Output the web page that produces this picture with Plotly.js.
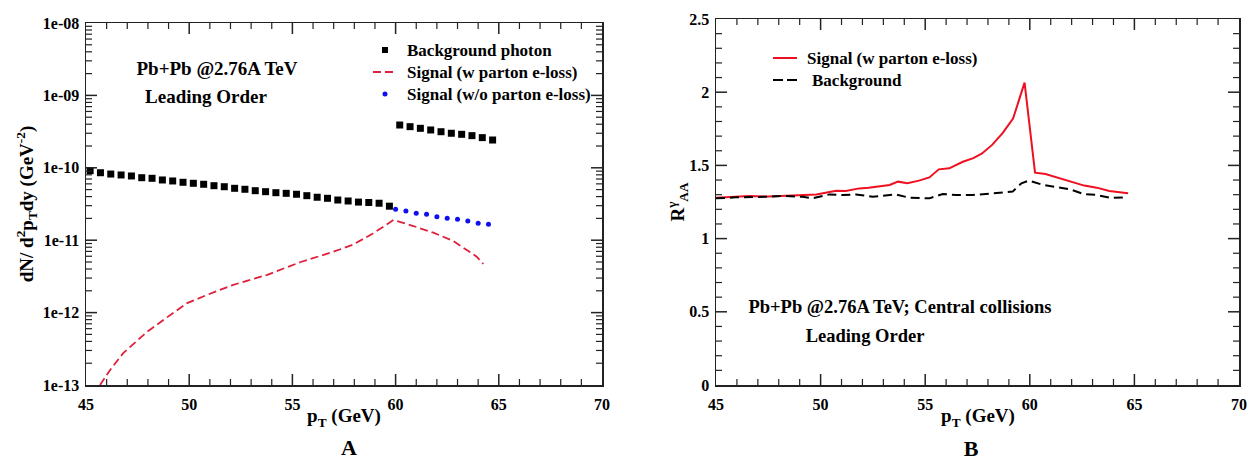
<!DOCTYPE html>
<html>
<head>
<meta charset="utf-8">
<script src="https://cdn.plot.ly/plotly-3.0.1.min.js"></script>
<style>
html,body{margin:0;padding:0;background:#fff;}
#wrap{position:relative;width:1248px;height:460px;}
#chart{position:absolute;left:0;top:0;width:1248px;height:460px;}
.t{position:absolute;z-index:10;font-family:'Liberation Serif','Times New Roman',serif;font-weight:bold;color:#000;white-space:nowrap;line-height:1;transform:translate(-50%,-50%);}
.l{position:absolute;z-index:10;font-family:'Liberation Serif','Times New Roman',serif;font-weight:bold;color:#000;white-space:nowrap;line-height:1;font-size:17px;transform:translateY(-50%);}
.t sup,.t sub{font-size:70%;}
.rot{transform:translate(-50%,-50%) rotate(-90deg);}
.sym{position:absolute;z-index:10;}
</style>
</head>
<body>
<div id="wrap">
<div id="chart"></div>
<div id="overlay"></div>
</div>
<script>
// ---- Panel A data ----
var bgX = [45.2,45.7,46.2,46.7,47.2,47.7,48.2,48.7,49.2,49.7,50.2,50.7,51.2,51.7,52.2,52.7,53.2,53.7,54.2,54.7,55.2,55.7,56.2,56.7,57.2,57.7,58.2,58.7,59.2,59.7,
           60.2,60.7,61.2,61.7,62.2,62.7,63.2,63.7,64.2,64.7];
var bgY = [9.12e-11,8.55e-11,8.20e-11,7.96e-11,7.71e-11,7.30e-11,7.16e-11,6.79e-11,6.58e-11,6.31e-11,6.11e-11,5.92e-11,5.66e-11,5.48e-11,5.21e-11,5.05e-11,4.83e-11,4.68e-11,4.53e-11,4.44e-11,4.31e-11,4.12e-11,3.92e-11,3.79e-11,3.59e-11,3.48e-11,3.36e-11,3.32e-11,3.24e-11,2.95e-11,
           3.90e-10,3.70e-10,3.51e-10,3.33e-10,3.15e-10,3.00e-10,2.90e-10,2.78e-10,2.61e-10,2.42e-10];
var sigLossX = [45.68,46.16,46.8,47.95,48.9,49.9,50.85,52.1,53.75,55.4,56.97,57.95,58.9,59.9,60.86,61.83,62.8,63.44,63.93,64.25];
var sigLossY = [1.0e-13,1.6e-13,2.75e-13,5.4e-13,8.5e-13,1.35e-12,1.75e-12,2.4e-12,3.3e-12,5.0e-12,6.9e-12,8.7e-12,1.24e-11,1.9e-11,1.57e-11,1.27e-11,9.75e-12,7.33e-12,5.92e-12,4.69e-12];
var sigNoLossX = [60.0,60.5,61.0,61.5,62.0,62.5,63.0,63.5,64.0,64.5];
var sigNoLossY = [2.67e-11,2.53e-11,2.35e-11,2.28e-11,2.11e-11,2.01e-11,1.94e-11,1.84e-11,1.71e-11,1.66e-11];
var yTickLabels = {'1e-8': '1e-08', '1e-9': '1e-09', '1e\u22128': '1e-08', '1e\u22129': '1e-09',
                   '1e\u221210': '1e-10', '1e\u221211': '1e-11', '1e\u221212': '1e-12', '1e\u221213': '1e-13'};

// ---- Panel B data ----
var raaSigX = [45,46,46.6,47.5,48.2,49,49.8,50.3,50.75,51.2,51.85,52.3,52.8,53.3,53.7,54.15,54.7,55.2,55.65,56.15,56.8,57.3,57.7,58.2,58.7,59.2,59.75,60.25,60.75,61.3,61.9,62.6,63.2,63.8,64.7];
var raaSigY = [1.279,1.285,1.291,1.287,1.293,1.296,1.302,1.315,1.327,1.325,1.343,1.347,1.355,1.366,1.389,1.378,1.396,1.418,1.473,1.480,1.525,1.55,1.58,1.64,1.72,1.82,2.065,1.45,1.441,1.418,1.396,1.362,1.348,1.325,1.309];
var raaBgX = [45,45.96,47.4,48.2,49.14,49.62,50.42,51.06,51.69,52.49,53.6,54.24,55.2,55.84,56.47,57.27,58.23,59.18,59.6,59.95,60.65,61.29,61.92,62.56,63.2,63.83,64.63];
var raaBgY = [1.275,1.282,1.286,1.291,1.286,1.275,1.302,1.298,1.302,1.286,1.302,1.279,1.275,1.305,1.298,1.298,1.309,1.321,1.378,1.396,1.366,1.350,1.337,1.305,1.298,1.279,1.282];

var W = 1248, H = 460;
function px(x){return x/W;}
function py(y){return 1 - y/H;}
var FONT = 'Liberation Serif, Times New Roman, serif';
var TICKC = '#222';

var traces = [
  {x: bgX, y: bgY, mode: 'markers', name: 'Background photon', xaxis: 'x', yaxis: 'y',
   marker: {symbol: 'square', size: 7, color: '#000'}},
  {x: sigLossX, y: sigLossY, mode: 'lines', name: 'Signal (w parton e-loss)', xaxis: 'x', yaxis: 'y',
   line: {color: '#e0203a', width: 1.8, dash: '8px,4px'}},
  {x: sigNoLossX, y: sigNoLossY, mode: 'markers', name: 'Signal (w/o parton e-loss)', xaxis: 'x', yaxis: 'y',
   marker: {symbol: 'circle', size: 5, color: '#1010ee'}},
  {x: raaSigX, y: raaSigY, mode: 'lines', name: 'Signal (w parton e-loss)', xaxis: 'x2', yaxis: 'y2',
   line: {color: '#ee1020', width: 2}},
  {x: raaBgX, y: raaBgY, mode: 'lines', name: 'Background', xaxis: 'x2', yaxis: 'y2',
   line: {color: '#000', width: 2, dash: '9px,5px'}}
];

// ---- inward tick marks (drawn as axis-referenced shapes, on all four sides) ----
var shapes = [];
function xTick(xref, yref, v, len, w){
  shapes.push({type: 'line', layer: 'above', xref: xref, x0: v, x1: v, yref: yref + ' domain', ysizemode: 'pixel', yanchor: 0, y0: 0, y1: len, line: {color: TICKC, width: w}});
  shapes.push({type: 'line', layer: 'above', xref: xref, x0: v, x1: v, yref: yref + ' domain', ysizemode: 'pixel', yanchor: 1, y0: 0, y1: -len, line: {color: TICKC, width: w}});
}
function yTick(xref, yref, v, len, w){
  shapes.push({type: 'line', layer: 'above', yref: yref, y0: v, y1: v, xref: xref + ' domain', xsizemode: 'pixel', xanchor: 0, x0: 0, x1: len, line: {color: TICKC, width: w}});
  shapes.push({type: 'line', layer: 'above', yref: yref, y0: v, y1: v, xref: xref + ' domain', xsizemode: 'pixel', xanchor: 1, x0: 0, x1: -len, line: {color: TICKC, width: w}});
}
// x axes: 45..70, major every 5, minor every 1
for (var v = 46; v < 70; v++) {
  var major = (v % 5 === 0);
  xTick('x', 'y', v, major ? 11 : 6, major ? 1.5 : 1.2);
  xTick('x2', 'y2', v, major ? 11 : 6, major ? 1.5 : 1.2);
}
// left log axis: 5 decades over the domain, minor ticks at 2..9 of each decade
for (var dcd = 0; dcd < 5; dcd++) {
  if (dcd > 0) yTick('x', 'y domain', dcd / 5, 11, 1.5);
  for (var k = 2; k <= 9; k++) yTick('x', 'y domain', (dcd + Math.log10(k)) / 5, 6, 1.2);
}
// right linear axis: 0..2.5, major every 0.5, minor every 0.1
for (var i = 1; i < 25; i++) {
  var mj = (i % 5 === 0);
  yTick('x2', 'y2', i / 10, mj ? 11 : 6, mj ? 1.5 : 1.2);
}

function axis(extra){
  var a = {
    showline: true, linecolor: '#222', linewidth: 1.5, mirror: true,
    ticks: '', showgrid: false, zeroline: false,
    tickfont: {family: FONT, size: 16, color: '#000', weight: 'bold'}
  };
  for (var k in extra) a[k] = extra[k];
  return a;
}

var layout = {
  width: W, height: H, autosize: false,
  margin: {l: 0, r: 0, t: 0, b: 0},
  paper_bgcolor: '#fff', plot_bgcolor: '#fff',
  font: {family: FONT, size: 16, color: '#000', weight: 'bold'},
  showlegend: false,
  xaxis: axis({domain: [px(86), px(602)], anchor: 'y', range: [45, 70], tick0: 45, dtick: 5, ticklabelstandoff: 4}),
  yaxis: axis({domain: [py(385), py(23)], anchor: 'x', type: 'log', range: [-13, -8], dtick: 1,
    tickformat: '.0e', labelalias: yTickLabels, ticklabelstandoff: 2}),
  xaxis2: axis({domain: [px(716), px(1239)], anchor: 'y2', range: [45, 70], tick0: 45, dtick: 5, ticklabelstandoff: 4}),
  yaxis2: axis({domain: [py(385), py(19)], anchor: 'x2', range: [0, 2.5], tick0: 0, dtick: 0.5, ticklabelstandoff: 2}),
  shapes: shapes
};

Plotly.newPlot('chart', traces, layout, {staticPlot: true});

// ---- text overlay: titles, annotations, legends ----
var texts = [
  {h: 'p<sub>T</sub> (GeV)', x: 344, y: 418, s: 19},
  {h: 'p<sub>T</sub> (GeV)', x: 978, y: 418, s: 19},
  {h: 'dN/ d<sup>2</sup>p<sub>T</sub>dy (GeV<sup>-2</sup>)', x: 27, y: 204, s: 19, r: true},
  {h: 'R<sup>γ</sup><sub>AA</sub>', x: 678, y: 202, s: 19, r: true},
  {h: 'Pb+Pb @2.76A TeV', x: 217, y: 68, s: 19},
  {h: 'Leading Order', x: 206, y: 96, s: 19},
  {h: 'Pb+Pb @2.76A TeV; Central collisions', x: 900, y: 307, s: 18.5},
  {h: 'Leading Order', x: 865, y: 336, s: 18.5},
  {h: 'A', x: 349, y: 448, s: 22},
  {h: 'B', x: 971, y: 449, s: 22}
];
var legendRows = [
  {name: traces[0].name, tx: 407, y: 50, sym: 'square', c: '#000'},
  {name: traces[1].name, tx: 407, y: 72, sym: 'dash', c: '#e0203a'},
  {name: traces[2].name, tx: 407, y: 94, sym: 'dot', c: '#1010ee'},
  {name: traces[3].name, tx: 807, y: 58, sym: 'line', c: '#ee1020'},
  {name: traces[4].name, tx: 812, y: 80, sym: 'dash2', c: '#000'}
];
var ov = document.getElementById('overlay');
texts.forEach(function(t){
  var d = document.createElement('div');
  d.className = 't' + (t.r ? ' rot' : '');
  d.style.left = t.x + 'px'; d.style.top = t.y + 'px'; d.style.fontSize = t.s + 'px';
  d.innerHTML = t.h;
  ov.appendChild(d);
});
legendRows.forEach(function(r){
  var d = document.createElement('div');
  d.className = 'l'; d.style.left = r.tx + 'px'; d.style.top = r.y + 'px';
  d.textContent = r.name;
  ov.appendChild(d);
  var svgNS = 'http://www.w3.org/2000/svg';
  var s = document.createElementNS(svgNS, 'svg');
  s.setAttribute('width', '30'); s.setAttribute('height', '12');
  s.setAttribute('class', 'sym');
  var symLeft = (r.sym === 'dash2') ? r.tx - 42 : r.tx - 37;
  s.style.left = symLeft + 'px'; s.style.top = (r.y - 6) + 'px';
  var e;
  if (r.sym === 'square') { e = document.createElementNS(svgNS, 'rect'); e.setAttribute('x', 12); e.setAttribute('y', 3); e.setAttribute('width', 6); e.setAttribute('height', 6); e.setAttribute('fill', r.c); }
  else if (r.sym === 'dot') { e = document.createElementNS(svgNS, 'circle'); e.setAttribute('cx', 15); e.setAttribute('cy', 6); e.setAttribute('r', 2.5); e.setAttribute('fill', r.c); }
  else {
    e = document.createElementNS(svgNS, 'line');
    e.setAttribute('x1', 3); e.setAttribute('x2', 27); e.setAttribute('y1', 6); e.setAttribute('y2', 6);
    e.setAttribute('stroke', r.c); e.setAttribute('stroke-width', 2);
    if (r.sym === 'dash') e.setAttribute('stroke-dasharray', '8,4');
    if (r.sym === 'dash2') e.setAttribute('stroke-dasharray', '10,4');
  }
  s.appendChild(e);
  ov.appendChild(s);
});
</script>
</body>
</html>
